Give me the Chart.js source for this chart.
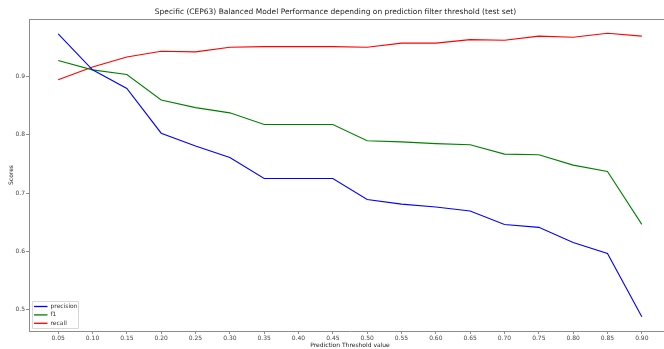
<!DOCTYPE html>
<html lang="en">
<head>
    <meta charset="UTF-8">
    <title>CEP63 Balanced Model Performance</title>
    <script src="https://cdn.jsdelivr.net/npm/chart.js"></script>
    <style>
        html, body { margin: 0; padding: 0; background: #fff; overflow: hidden; }
        #chart-container { width: 672px; height: 349px; }
    </style>
</head>
<body>

    <div id="chart-container">
        <canvas id="scoreChart" width="672" height="349"></canvas>
    </div>

    <script>
        // Prediction threshold values (x)
        const thresholds = [0.05, 0.10, 0.15, 0.20, 0.25, 0.30, 0.35, 0.40, 0.45,
                            0.50, 0.55, 0.60, 0.65, 0.70, 0.75, 0.80, 0.85, 0.90];

        // Scores
        const precision = [0.974, 0.912, 0.880, 0.803, 0.781, 0.761, 0.725, 0.725, 0.725,
                           0.689, 0.681, 0.676, 0.669, 0.646, 0.641, 0.615, 0.596, 0.487];
        const f1 = [0.928, 0.912, 0.904, 0.860, 0.847, 0.838, 0.818, 0.818, 0.818,
                    0.790, 0.788, 0.785, 0.783, 0.767, 0.766, 0.748, 0.737, 0.646];
        const recall = [0.895, 0.917, 0.934, 0.944, 0.943, 0.951, 0.952, 0.952, 0.952,
                        0.951, 0.958, 0.958, 0.964, 0.963, 0.970, 0.968, 0.975, 0.970];

        const xTicks = [0.05, 0.10, 0.15, 0.20, 0.25, 0.30, 0.35, 0.40, 0.45,
                        0.50, 0.55, 0.60, 0.65, 0.70, 0.75, 0.80, 0.85, 0.90];
        const yTicks = [0.5, 0.6, 0.7, 0.8, 0.9];

        const FONT = "'DejaVu Sans', sans-serif";

        function toPoints(values) {
            return thresholds.map((t, i) => ({ x: t, y: values[i] }));
        }

        // top spine (matplotlib-style box)
        const frame = {
            id: 'frame',
            afterDraw(chart) {
                const a = chart.chartArea;
                const ctx = chart.ctx;
                ctx.save();
                ctx.strokeStyle = '#8c8c8c';
                ctx.lineWidth = 1;
                ctx.beginPath();
                ctx.moveTo(a.left, a.top + 0.5);
                ctx.lineTo(a.right, a.top + 0.5);
                ctx.stroke();
                ctx.restore();
            }
        };

        // legend box in the lower left corner
        const cornerLegend = {
            id: 'cornerLegend',
            afterDraw(chart) {
                const a = chart.chartArea;
                const ctx = chart.ctx;
                const x = a.left + 3.5, y = a.bottom - 29.5;
                ctx.save();
                ctx.fillStyle = 'rgba(255,255,255,0.8)';
                ctx.strokeStyle = '#d8d8d8';
                ctx.lineWidth = 1;
                ctx.beginPath();
                ctx.rect(x, y, 46, 27);
                ctx.fill();
                ctx.stroke();
                ctx.font = "6px " + FONT;
                ctx.textBaseline = 'middle';
                chart.data.datasets.forEach((ds, i) => {
                    const ly = y + 5 + i * 8.4;
                    ctx.strokeStyle = ds.borderColor;
                    ctx.lineWidth = 1.3;
                    ctx.beginPath();
                    ctx.moveTo(x + 1.5, ly);
                    ctx.lineTo(x + 15, ly);
                    ctx.stroke();
                    ctx.fillStyle = '#333';
                    ctx.fillText(ds.label, x + 18, ly);
                });
                ctx.restore();
            }
        };

        const ctx = document.getElementById('scoreChart').getContext('2d');
        const scoreChart = new Chart(ctx, {
            type: 'line',
            data: {
                datasets: [
                    { label: 'precision', data: toPoints(precision), borderColor: '#0000ff' },
                    { label: 'f1', data: toPoints(f1), borderColor: '#008000' },
                    { label: 'recall', data: toPoints(recall), borderColor: '#ff0000' }
                ]
            },
            options: {
                responsive: false,
                animation: false,
                layout: { padding: { right: 1 } },
                elements: {
                    line: { borderWidth: 1.1, tension: 0, fill: false },
                    point: { radius: 0 }
                },
                plugins: {
                    legend: { display: false },
                    tooltip: { enabled: false },
                    title: {
                        display: true,
                        text: 'Specific (CEP63) Balanced Model Performance depending on prediction filter threshold (test set)',
                        color: '#222',
                        font: { family: FONT, size: 7.5, weight: 'normal' },
                        padding: { top: 8, bottom: 2 }
                    }
                },
                scales: {
                    x: {
                        type: 'linear',
                        min: 0.0075,
                        max: 0.9425,
                        afterBuildTicks(scale) { scale.ticks = xTicks.map(v => ({ value: v })); },
                        afterFit(scale) { scale.height = 18; },
                        ticks: {
                            color: '#444',
                            font: { family: FONT, size: 6 },
                            padding: 1,
                            maxRotation: 0,
                            autoSkip: false,
                            callback: v => v.toFixed(2)
                        },
                        grid: { drawOnChartArea: false, drawTicks: true, tickLength: 3, color: '#8c8c8c' },
                        border: { display: true, color: '#8c8c8c', width: 1 },
                        title: {
                            display: true,
                            text: 'Prediction Threshold value',
                            color: '#222',
                            font: { family: FONT, size: 6 },
                            padding: { top: 0, bottom: 0 }
                        }
                    },
                    y: {
                        min: 0.4626,
                        max: 0.9995,
                        afterBuildTicks(scale) { scale.ticks = yTicks.map(v => ({ value: v })); },
                        afterFit(scale) { scale.width = 29; },
                        ticks: {
                            color: '#444',
                            font: { family: FONT, size: 6 },
                            padding: 1,
                            callback: v => v.toFixed(1)
                        },
                        grid: { drawOnChartArea: false, drawTicks: true, tickLength: 3, color: '#8c8c8c' },
                        border: { display: true, color: '#8c8c8c', width: 1 },
                        title: {
                            display: true,
                            text: 'Scores',
                            color: '#222',
                            font: { family: FONT, size: 6 },
                            padding: { top: 7.5, bottom: 0 }
                        }
                    }
                }
            },
            plugins: [frame, cornerLegend]
        });
    </script>

</body>
</html>
